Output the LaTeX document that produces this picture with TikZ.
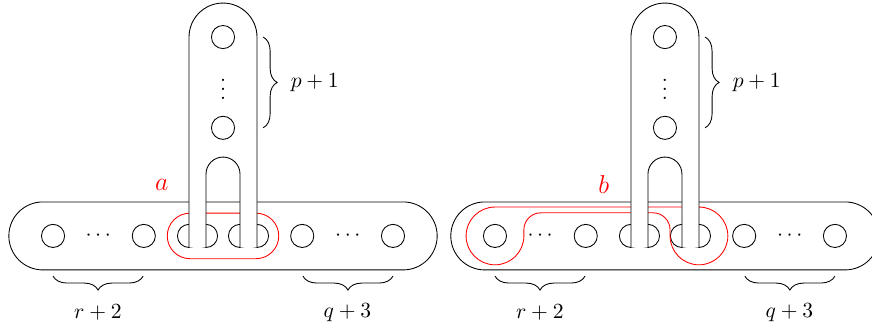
\documentclass[tikz,border=0pt]{standalone}
\usetikzlibrary{decorations.pathreplacing}
\begin{document}
\begin{tikzpicture}[scale=0.554]
\useasboundingbox (-6.56,-2.82) rectangle (19.09,6.94);
\foreach \i/\dx in {1/0,2/13}{
\begin{scope}[xshift=\dx cm]
% horizontal surface
\draw (-5.3,1) -- (5.3,1) arc (90:-90:1) -- (-5.3,-1) arc (270:90:1) -- cycle;
\foreach \x in {-5,-2.33,-1,-0.5,0.5,1,2.33,5}
  \draw (\x,0) circle (0.34);
\node (ldots\i) at (-3.67,0) {$\cdots$};
\node (rdots\i) at (3.67,0) {$\cdots$};
% the curve
\ifnum\i=1
\draw[red] (-0.97,0.67) -- (0.97,0.67) arc (90:-90:0.67) -- (-0.97,-0.67) arc (270:90:0.67) -- cycle;
\node[red] (a) at (-1.8,1.5) {\large $a$};
\else
\draw[red] (-4.15,0) arc (0:-180:0.85) arc (180:90:0.85) -- (1,0.85) arc (90:-90:0.85)
  arc (270:180:0.85) -- (0.15,0.18) arc (0:90:0.5) -- (-3.65,0.68) arc (90:180:0.5) -- cycle;
\node[red] (b) at (-1.8,1.5) {\large $b$};
\fi
% vertical band
\fill[white] (-1,-0.34) -- (-1,5.85) arc (180:0:1) -- (1,-0.34) -- (0.5,-0.34)
  -- (0.5,1.82) arc (0:180:0.5) -- (-0.5,-0.34) -- cycle;
\draw (-1,-0.34) -- (-1,5.85) arc (180:0:1) -- (1,-0.34);
\draw (0.5,-0.34) -- (0.5,1.82) arc (0:180:0.5) -- (-0.5,-0.34);
\draw (0,5.85) circle (0.34);
\draw (0,3.18) circle (0.34);
\node (vdots\i) at (0,4.5) {$\vdots$};
% braces
\draw[decorate, decoration={brace, amplitude=6.5pt}] (1.18,5.85) -- (1.18,3.18);
\draw[decorate, decoration={brace, amplitude=6.5pt}] (-2.35,-1.18) -- (-5,-1.18);
\draw[decorate, decoration={brace, amplitude=6.5pt}] (5,-1.18) -- (2.35,-1.18);
\node (p\i) at (2.7,4.5) {$p+1$};
\node (r\i) at (-3.68,-2.26) {$r+2$};
\node (q\i) at (3.66,-2.26) {$q+3$};
\end{scope}
}
\end{tikzpicture}
\end{document}
